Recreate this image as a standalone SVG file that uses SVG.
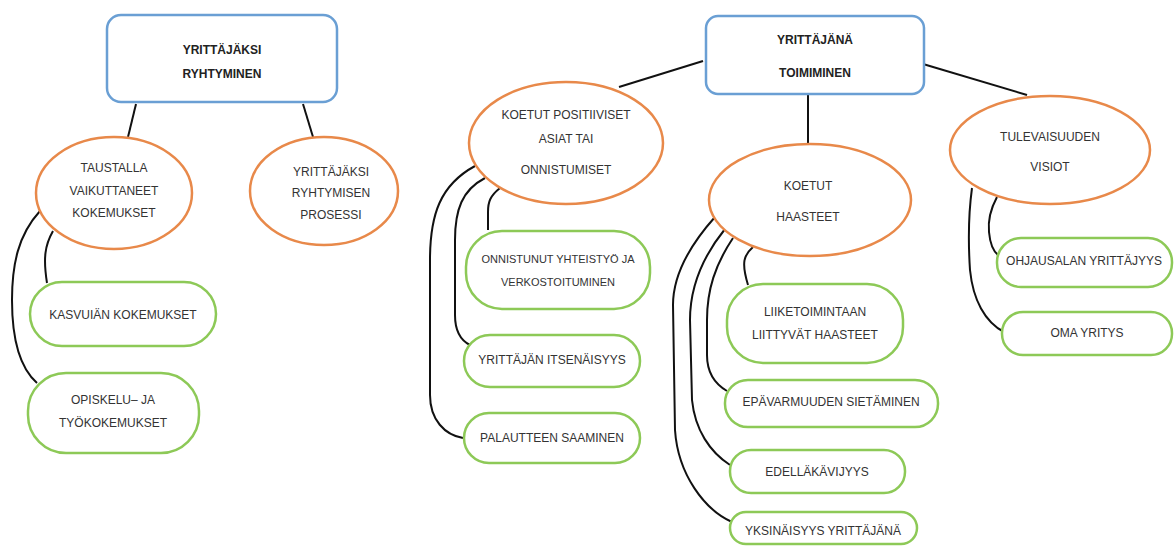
<svg xmlns="http://www.w3.org/2000/svg" width="1175" height="550" viewBox="0 0 1175 550">
<style>
.bg{fill:#ffffff}
.main{fill:#ffffff;stroke:#6a9fd4;stroke-width:2.5}
.sub{fill:#ffffff;stroke:#e8894a;stroke-width:2.5}
.leaf{fill:#ffffff;stroke:#8dc957;stroke-width:2.5}
.t{font-family:"Liberation Sans",Arial,sans-serif;font-size:12px;fill:#333333;text-anchor:middle;dominant-baseline:central}
.tb{font-family:"Liberation Sans",Arial,sans-serif;font-size:12px;font-weight:bold;fill:#222222;text-anchor:middle;dominant-baseline:central}
.c{fill:none;stroke:#111111;stroke-width:2}
</style>
<rect class="bg" x="0" y="0" width="1175" height="550"/>
<g id="connectors">
<line class="c" x1="136" y1="104" x2="128" y2="137"/>
<line class="c" x1="303" y1="104" x2="313" y2="137"/>
<path class="c" d="M40,211 C18,235 12,265 12,300 C12,340 20,368 37,383"/>
<path class="c" d="M53,231 C45,245 43,258 47,283"/>
<line class="c" x1="703" y1="61" x2="619" y2="87"/>
<line class="c" x1="808" y1="93" x2="808" y2="145"/>
<line class="c" x1="923" y1="64" x2="1027" y2="95"/>
<path class="c" d="M475,166 C440,185 430,215 430,260 L430,395 C430,420 445,435 463,438"/>
<path class="c" d="M485,178 C462,190 455,210 455,240 L455,315 C455,330 460,340 470,345"/>
<path class="c" d="M500,188 C490,196 488,202 488,212 L488,230"/>
<path class="c" d="M753,247 C744,255 741,262 748,285"/>
<path class="c" d="M733,238 C715,265 707,290 707,320 L707,355 C707,372 715,384 727,391"/>
<path class="c" d="M725,229 C700,260 690,290 690,320 L692,400 C695,430 710,452 730,465"/>
<path class="c" d="M715,217 C690,245 673,275 673,305 L675,430 C678,475 705,510 732,522"/>
<path class="c" d="M997,197 C990,210 988,222 989,232 C990,243 992,250 998,255"/>
<path class="c" d="M972,188 C969,210 968,240 970,270 C973,300 985,322 1004,332"/>
</g>
<g id="n-yrittajaksi-ryhtyminen">
<rect class="main" x="107" y="15" width="230" height="87" rx="14"/>
<text class="tb" x="222" y="50">YRITTÄJÄKSI</text>
<text class="tb" x="222" y="74">RYHTYMINEN</text>
</g>
<g id="n-taustalla">
<ellipse class="sub" cx="114" cy="193" rx="78" ry="56"/>
<text class="t" x="114" y="168">TAUSTALLA</text>
<text class="t" x="114" y="191">VAIKUTTANEET</text>
<text class="t" x="114" y="213">KOKEMUKSET</text>
</g>
<g id="n-prosessi">
<ellipse class="sub" cx="324" cy="191" rx="74" ry="54"/>
<text class="t" x="331" y="172">YRITTÄJÄKSI</text>
<text class="t" x="331" y="193">RYHTYMISEN</text>
<text class="t" x="331" y="215">PROSESSI</text>
</g>
<g id="n-kasvuian">
<rect class="leaf" x="30" y="282" width="186" height="64" rx="32"/>
<text class="t" x="123" y="315">KASVUIÄN KOKEMUKSET</text>
</g>
<g id="n-opiskelu">
<rect class="leaf" x="28" y="373" width="171" height="80" rx="38"/>
<text class="t" x="113" y="400">OPISKELU– JA</text>
<text class="t" x="113" y="423">TYÖKOKEMUKSET</text>
</g>
<g id="n-yrittajana-toimiminen">
<rect class="main" x="706" y="16" width="218" height="78" rx="12"/>
<text class="tb" x="815" y="40">YRITTÄJÄNÄ</text>
<text class="tb" x="815" y="73">TOIMIMINEN</text>
</g>
<g id="n-positiiviset">
<ellipse class="sub" cx="566" cy="143" rx="97" ry="61"/>
<text class="t" x="566" y="115">KOETUT POSITIIVISET</text>
<text class="t" x="566" y="139">ASIAT TAI</text>
<text class="t" x="566" y="170">ONNISTUMISET</text>
</g>
<g id="n-haasteet">
<ellipse class="sub" cx="810" cy="200" rx="101" ry="56"/>
<text class="t" x="808" y="186">KOETUT</text>
<text class="t" x="808" y="217">HAASTEET</text>
</g>
<g id="n-tulevaisuuden">
<ellipse class="sub" cx="1050" cy="150" rx="100" ry="54"/>
<text class="t" x="1050" y="137">TULEVAISUUDEN</text>
<text class="t" x="1050" y="167">VISIOT</text>
</g>
<g id="n-onnistunut">
<rect class="leaf" x="466" y="231" width="184" height="78" rx="36"/>
<text class="t" x="558" y="259" style="font-size:11px">ONNISTUNUT YHTEISTYÖ JA</text>
<text class="t" x="558" y="282" style="font-size:11px">VERKOSTOITUMINEN</text>
</g>
<g id="n-itsenaisyys">
<rect class="leaf" x="464" y="335" width="176" height="52" rx="26"/>
<text class="t" x="552" y="360">YRITTÄJÄN ITSENÄISYYS</text>
</g>
<g id="n-palautteen">
<rect class="leaf" x="464" y="413" width="176" height="50" rx="25"/>
<text class="t" x="552" y="438">PALAUTTEEN SAAMINEN</text>
</g>
<g id="n-liiketoimintaan">
<rect class="leaf" x="727" y="284" width="176" height="79" rx="36"/>
<text class="t" x="815" y="312">LIIKETOIMINTAAN</text>
<text class="t" x="815" y="335">LIITTYVÄT HAASTEET</text>
</g>
<g id="n-epavarmuuden">
<rect class="leaf" x="725" y="380" width="213" height="47" rx="23"/>
<text class="t" x="831" y="402">EPÄVARMUUDEN SIETÄMINEN</text>
</g>
<g id="n-edellakavijyys">
<rect class="leaf" x="730" y="450" width="175" height="43" rx="21"/>
<text class="t" x="817" y="472">EDELLÄKÄVIJYYS</text>
</g>
<g id="n-yksinaisyys">
<rect class="leaf" x="730" y="512" width="187" height="32" rx="16"/>
<text class="t" x="823" y="531">YKSINÄISYYS YRITTÄJÄNÄ</text>
</g>
<g id="n-ohjausalan">
<rect class="leaf" x="997" y="238" width="175" height="49" rx="24"/>
<text class="t" x="1084" y="261">OHJAUSALAN YRITTÄJYYS</text>
</g>
<g id="n-oma-yritys">
<rect class="leaf" x="1002" y="312" width="170" height="43" rx="21"/>
<text class="t" x="1087" y="333">OMA YRITYS</text>
</g>
</svg>
